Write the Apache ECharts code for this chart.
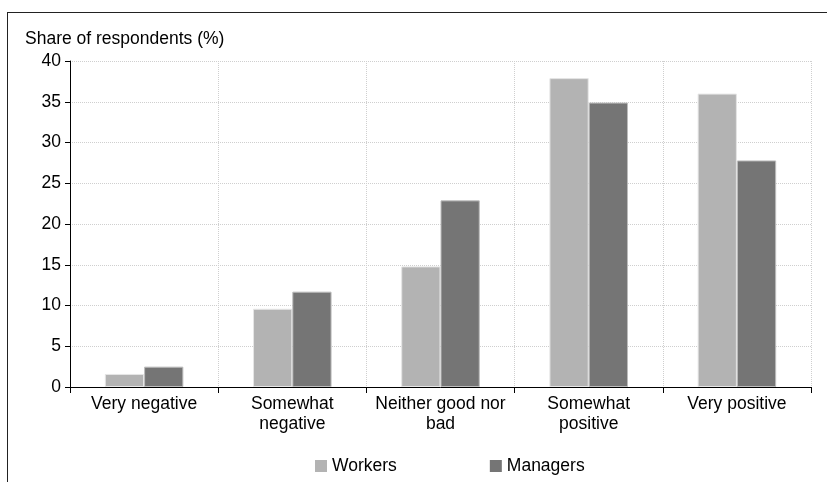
<!DOCTYPE html>
<html>
<head>
<meta charset="utf-8">
<script src="https://cdn.jsdelivr.net/npm/echarts@6/dist/echarts.min.js"></script>
<style>
    html, body { margin: 0; padding: 0; background: #fff; }
    .frame {
        position: absolute;
        left: 7px;
        top: 12px;
        width: 820px;
        height: 470px;
        border-left: 1px solid #222;
        border-top: 1px solid #222;
    }
    #chart { position: absolute; left: 0; top: 0; width: 827px; height: 482px; }
</style>
</head>
<body>
<div class="frame"></div>
<div id="chart"></div>
<script>
var categories = ['Very negative', 'Somewhat\nnegative', 'Neither good nor\nbad', 'Somewhat\npositive', 'Very positive']
var workers = [1.6, 9.6, 14.8, 37.9, 36.0]
var managers = [2.5, 11.7, 22.9, 34.9, 27.8]
var yTicks = [0, 5, 10, 15, 20, 25, 30, 35, 40]

var font = '"Liberation Sans", Arial, sans-serif'
var fontSize = 17.5

var myChart = echarts.init(document.getElementById('chart'))
var option = {
    animation: false,
    title: {
        text: 'Share of respondents (%)',
        left: 20,
        top: 25,
        textStyle: {
            fontFamily: font,
            fontWeight: 'normal',
            fontSize: fontSize,
            color: '#000'
        }
    },
    legend: {
        left: 315,
        top: 457,
        padding: 0,
        itemWidth: 12,
        itemHeight: 12,
        itemGap: 93,
        icon: 'rect',
        itemStyle: { borderWidth: 0 },
        textStyle: {
            fontFamily: font,
            fontSize: fontSize,
            color: '#000'
        },
        data: ['Workers', 'Managers']
    },
    grid: {
        left: 70,
        right: 16,
        top: 61,
        bottom: 95
    },
    xAxis: {
        type: 'category',
        data: categories,
        axisLine: { lineStyle: { color: '#000', width: 1 } },
        axisTick: { show: true, length: 6, lineStyle: { color: '#000' } },
        axisLabel: {
            interval: 0,
            margin: 7,
            fontFamily: font,
            fontSize: fontSize,
            lineHeight: 20,
            color: '#000'
        },
        splitLine: {
            show: true,
            lineStyle: { type: 'dotted', color: '#cfcfcf', width: 1 }
        }
    },
    yAxis: {
        type: 'value',
        min: yTicks[0],
        max: yTicks[yTicks.length - 1],
        interval: 5,
        axisLine: { show: true, lineStyle: { color: '#000', width: 1 } },
        axisTick: { show: true, length: 5, lineStyle: { color: '#000' } },
        axisLabel: {
            margin: 9,
            fontFamily: font,
            fontSize: fontSize,
            color: '#000'
        },
        splitLine: {
            show: true,
            lineStyle: { type: 'dotted', color: '#cfcfcf', width: 1 }
        }
    },
    series: [
        {
            name: 'Workers',
            type: 'bar',
            barGap: '0%',
            barCategoryGap: '47%',
            itemStyle: { color: '#b3b3b3', borderColor: '#e6e6e6', borderWidth: 1 },
            data: workers
        },
        {
            name: 'Managers',
            type: 'bar',
            itemStyle: { color: '#757575', borderColor: '#bdbdbd', borderWidth: 1 },
            data: managers
        }
    ]
}
myChart.setOption(option)

window.addEventListener('resize', function() {
    myChart.resize()
})
</script>
</body>
</html>
